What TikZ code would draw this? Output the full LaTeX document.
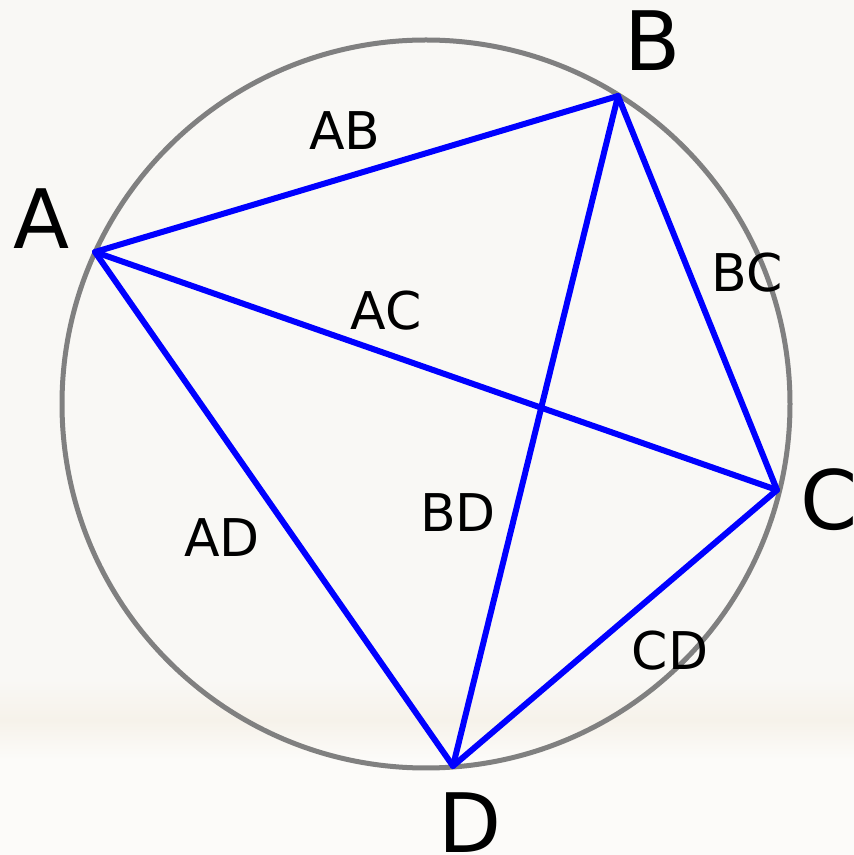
\documentclass[tikz,border=0pt]{standalone}
\usepackage{fontspec}
\setmainfont{DejaVu Sans}
\definecolor{bgcol}{RGB}{249,248,245}
\definecolor{bandcol}{RGB}{246,242,234}
\definecolor{lowcol}{RGB}{252,251,249}
\definecolor{circcol}{RGB}{128,128,128}
\begin{document}
\begin{tikzpicture}[x=1pt,y=1pt,
  vlabel/.style={inner sep=0pt,font=\fontsize{82}{82}\selectfont},
  elabel/.style={inner sep=0pt,font=\fontsize{52}{52}\selectfont},
  chord/.style={draw={rgb,255:red,0;green,0;blue,255},line width=6pt,line cap=round,line join=round}]
\useasboundingbox (0,0) rectangle (854,855);
\fill[bgcol] (0,0) rectangle (854,855);
\fill[lowcol] (0,0) rectangle (854,95);
\shade[top color=bgcol,bottom color=bandcol] (0,135) rectangle (854,175);
\shade[top color=bandcol,bottom color=lowcol] (0,95) rectangle (854,135);
\node[draw=circcol,line width=5pt,circle,minimum size=728pt,inner sep=0pt] (circ) at (426,451) {};
\coordinate (A) at (95,603);
\coordinate (B) at (618,759);
\coordinate (C) at (777,365);
\coordinate (D) at (453,89);
\draw[chord] (A) -- (B) -- (C) -- (D) -- cycle;
\draw[chord] (A) -- (C);
\draw[chord] (B) -- (D);
\node[vlabel] (lA) at (42,636) {A};
\node[vlabel] (lB) at (653,814) {B};
\node[vlabel] (lC) at (829,355) {C};
\node[vlabel] (lD) at (470,32) {D};
\node[elabel] (lAB) at (345,724) {AB};
\node[elabel] (lBC) at (747,582) {BC};
\node[elabel] (lAC) at (386,544) {AC};
\node[elabel] (lBD) at (458,342) {BD};
\node[elabel] (lAD) at (222,317) {AD};
\node[elabel] (lCD) at (670,204) {CD};
\end{tikzpicture}
\end{document}
